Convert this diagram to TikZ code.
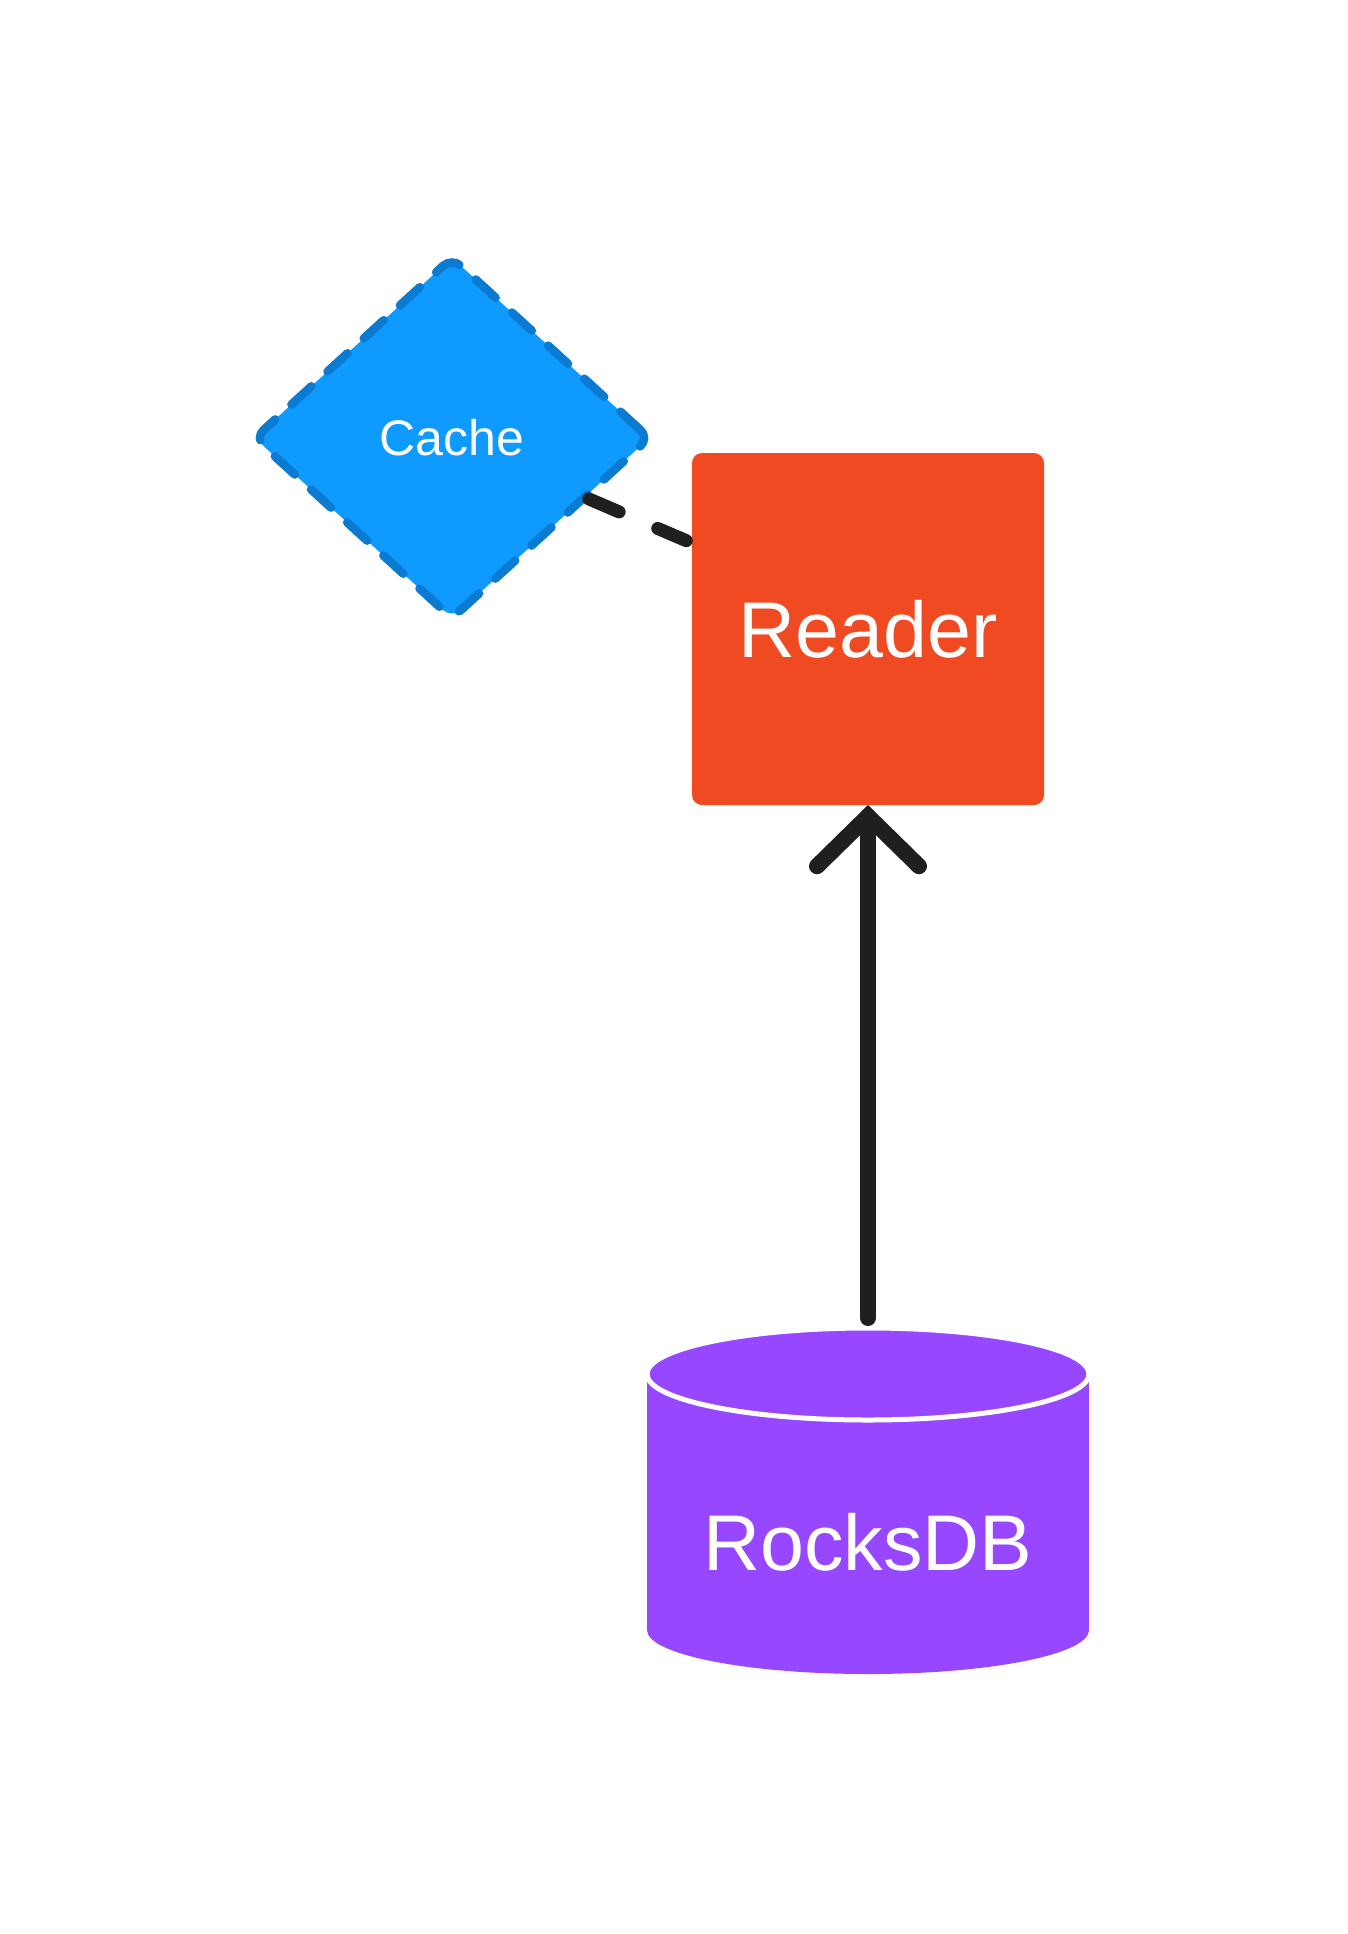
\documentclass[tikz,border=0pt]{standalone}
\usepackage{fontspec}
\setmainfont{Liberation Sans}
\usetikzlibrary{shapes.geometric,calc}
\definecolor{cachefill}{HTML}{0F9AFF}
\definecolor{cachestroke}{HTML}{0A7BD0}
\definecolor{readerfill}{HTML}{F04A23}
\definecolor{dbfill}{HTML}{9747FF}
\definecolor{ink}{HTML}{1F1F1F}
\tikzset{
  cachebox/.style={shape=diamond, minimum width=398pt, minimum height=364pt, inner sep=0pt,
    fill=cachefill, draw=cachestroke, line width=8.5pt, dash pattern=on 27pt off 22pt,
    line cap=round, rounded corners=12pt, text=white, font=\fontsize{50pt}{50pt}\selectfont},
  readerbox/.style={shape=rectangle, minimum width=352pt, minimum height=352pt, inner sep=0pt,
    fill=readerfill, rounded corners=10pt, text=white, font=\fontsize{79pt}{79pt}\selectfont},
  dblabel/.style={text=white, inner sep=0pt, font=\fontsize{79pt}{79pt}\selectfont},
  dashlink/.style={draw=ink, line width=13pt, line cap=round, dash pattern=on 33pt off 42pt},
  arrowline/.style={draw=ink, line width=16pt, line cap=round},
}
\begin{document}
\begin{tikzpicture}[x=1pt,y=-1pt]
\useasboundingbox[fill=white] (0,0) rectangle (1348,1934);
% Cylinder body
\fill[dbfill] (647,1374) rectangle (1089,1630);
\fill[dbfill] (868,1630) ellipse [x radius=221pt, y radius=44pt];
\filldraw[fill=dbfill, draw=white, line width=5pt] (868,1374) ellipse [x radius=221pt, y radius=46pt];
\node[dblabel] (db) at (868,1542) {RocksDB};
\coordinate (dbtop) at (868,1318);
% Nodes
\node[cachebox] (cache) at (452,438) {Cache};
\node[readerbox] (reader) at (868,629) {Reader};
% Connectors
\draw[dashlink, shorten >=6pt] (cache.-24) -- (reader.154);
\draw[arrowline, shorten >=11pt] (dbtop) -- (reader.south);
\draw[arrowline, line join=miter] ($(reader.south)+(-51,61)$) -- ($(reader.south)+(0,11)$) -- ($(reader.south)+(51,61)$);
\end{tikzpicture}
\end{document}
